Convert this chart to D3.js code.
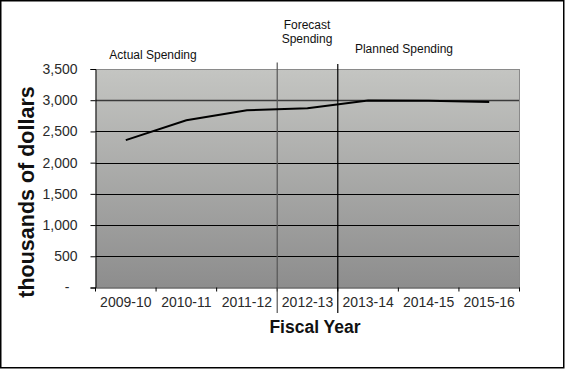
<!DOCTYPE html>
<html>
<head>
<meta charset="utf-8">
<script src="https://cdn.jsdelivr.net/npm/d3@7"></script>
<style>
html,body{margin:0;padding:0;background:#fff;}
svg{display:block;}
text{font-family:Arial,"Liberation Sans",sans-serif;}
</style>
</head>
<body>
<script>
const categories = ["2009-10","2010-11","2011-12","2012-13","2013-14","2014-15","2015-16"];
const spending = [2360, 2680, 2840, 2870, 2995, 2990, 2970];
const yTicks = [0, 500, 1000, 1500, 2000, 2500, 3000, 3500];
const yTickLabels = ["-", "500", "1,000", "1,500", "2,000", "2,500", "3,000", "3,500"];
const periodLabels = [
  {lines:["Actual Spending"], cx:153, y:[59]},
  {lines:["Forecast","Spending"], cx:307, y:[29,42.5]},
  {lines:["Planned Spending"], cx:404, y:[52.5]}
];

const W = 565, H = 369;
const svg = d3.select("body").append("svg").attr("width", W).attr("height", H);

const x = d3.scaleBand().domain(categories).range([95.5, 519.5]).padding(0);
const y = d3.scaleLinear().domain([0, 3500]).range([287.5, 69]);

// outer border
svg.append("rect").attr("x",0.75).attr("y",0.75).attr("width",563).attr("height",367)
  .attr("fill","#fff").attr("stroke","#000").attr("stroke-width",1.5);

// gradient
const defs = svg.append("defs");
const grad = defs.append("linearGradient").attr("id","bg").attr("x1",0).attr("y1",0).attr("x2",0).attr("y2",1);
grad.append("stop").attr("offset","0%").attr("stop-color","#c4c5c2");
grad.append("stop").attr("offset","100%").attr("stop-color","#8d8d8d");

const [r0, r1] = x.range();
svg.append("rect").attr("x", r0).attr("y", y(3500)).attr("width", r1 - r0).attr("height", y(0) - y(3500))
  .attr("fill","url(#bg)");

// gridlines
svg.append("g").selectAll("line").data(yTicks.filter(d => d > 0)).join("line")
  .attr("x1", r0).attr("x2", r1)
  .attr("y1", d => Math.round(y(d)) + 0.5).attr("y2", d => Math.round(y(d)) + 0.5)
  .attr("stroke", d => d === 3500 ? "#8a8a8a" : (d === 3000 ? "#3a3a3a" : "#000"))
  .attr("stroke-width", d => d === 3000 ? 1.3 : 1);

// right border of plot
svg.append("line").attr("x1", r1).attr("x2", r1).attr("y1", y(3500)).attr("y2", y(0))
  .attr("stroke","#8a8a8a").attr("stroke-width",1);

// y axis
const yAxis = d3.axisLeft(y).tickValues(yTicks)
  .tickFormat((d,i) => yTickLabels[i]).tickSize(5).tickPadding(13);
const gy = svg.append("g").attr("transform", `translate(${r0},0)`).call(yAxis);
gy.select(".domain").attr("stroke","#000");
gy.selectAll(".tick line").attr("stroke","#000");
gy.selectAll(".tick text").attr("font-size","14px").attr("fill","#2a2a2a")
  .attr("font-family","Arial, 'Liberation Sans', sans-serif")
  .attr("dx", (d) => d === 0 ? "-8px" : "0px");

// x axis
const xAxis = d3.axisBottom(x).tickSize(0).tickPadding(10);
const gx = svg.append("g").attr("transform", `translate(0,${y(0)})`).call(xAxis);
gx.select(".domain").attr("stroke","#222");
gx.selectAll(".tick text").attr("font-size","14px").attr("fill","#2a2a2a")
  .attr("font-family","Arial, 'Liberation Sans', sans-serif");
// x ticks at category boundaries
const bounds = categories.map(c => x(c)).concat([r1]);
svg.append("g").selectAll("line").data(bounds).join("line")
  .attr("x1", d => d).attr("x2", d => d).attr("y1", y(0)).attr("y2", y(0) + 4)
  .attr("stroke","#000");

// divider lines
svg.append("line").attr("x1", x(categories[3])).attr("x2", x(categories[3]))
  .attr("y1", 62.5).attr("y2", 313).attr("stroke","#555").attr("stroke-width",1.2);
svg.append("line").attr("x1", x(categories[4])).attr("x2", x(categories[4]))
  .attr("y1", 64).attr("y2", 313).attr("stroke","#000").attr("stroke-width",1.2);

// data line
const line = d3.line().x((d,i) => x(categories[i]) + x.bandwidth()/2).y(d => y(d));
svg.append("path").datum(spending).attr("d", line)
  .attr("fill","none").attr("stroke","#000").attr("stroke-width",2);

// axis titles
svg.append("text").attr("x", 315).attr("y", 332.5).attr("text-anchor","middle")
  .attr("font-size","17.5px").attr("font-weight","bold").attr("fill","#111").text("Fiscal Year");
svg.append("text").attr("transform","translate(33.5,192) rotate(-90)").attr("text-anchor","middle")
  .attr("font-size","21.5px").attr("font-weight","bold").attr("fill","#111").text("thousands of dollars");

// period labels
const pl = svg.append("g");
periodLabels.forEach(p => {
  p.lines.forEach((t, i) => {
    pl.append("text").attr("x", p.cx).attr("y", p.y[i]).attr("text-anchor","middle")
      .attr("font-size","12px").attr("fill","#111").text(t);
  });
});
</script>
</body>
</html>
